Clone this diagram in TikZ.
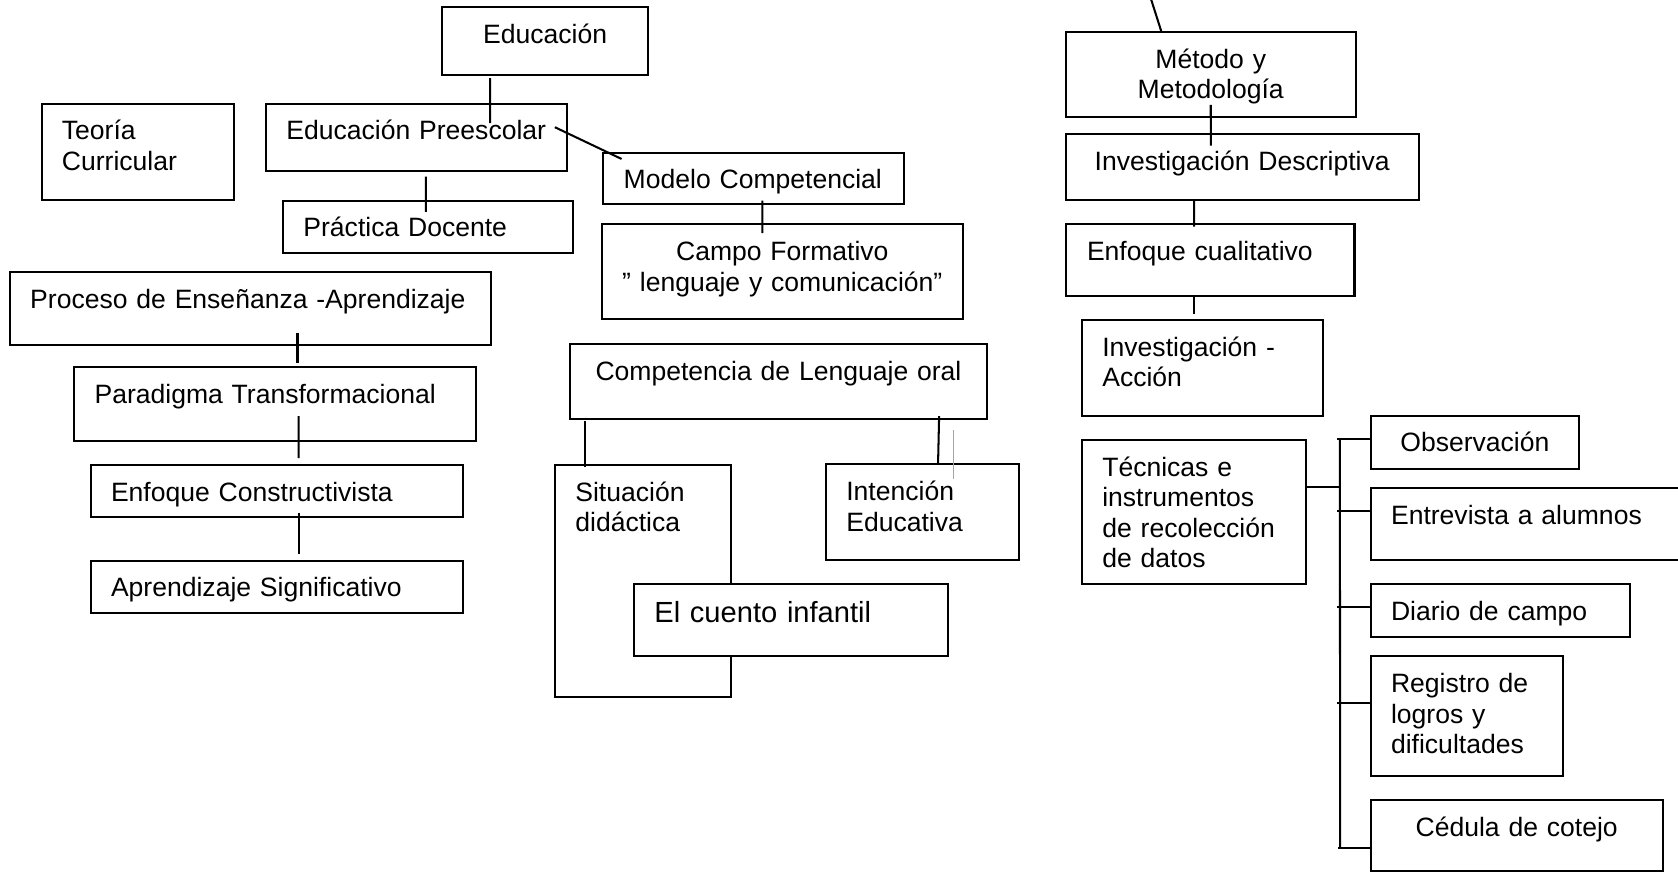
\documentclass[tikz,border=0pt]{standalone}
\usepackage{fontspec}
\setmainfont{Liberation Sans}
\usetikzlibrary{positioning,fit,calc}

\begin{document}
\begin{tikzpicture}[x=0.5pt,y=-0.5pt,
    every node/.style={inner sep=0pt},
    box/.style={draw, line width=0.95pt},
    lbl/.style={text width=8cm, align=left, font=\fontsize{12.4}{14.3}\selectfont, execute at begin node=\strut},
    clbl/.style={lbl, align=center},
    link/.style={line width=0.95pt}]
    \clip (0,0) rectangle (1568,815);

    % left column
    \node[box, fit={(413,6.9) (605.7,70.4)}] (edu) {};
    \node[box, fit={(38.8,96.9) (219,186.9)}] (teo) {};
    \node[box, fit={(248.6,96.9) (530,160.2)}] (pre) {};
    \node[box, fit={(264.5,187.5) (535.7,236.7)}] (pra) {};
    \node[box, fit={(9.2,254.2) (458.8,322.1)}] (pro) {};
    \node[box, fit={(69.3,343.2) (445.1,411.8)}] (par) {};
    \node[box, fit={(84.7,434.5) (432.6,483.4)}] (enc) {};
    \node[box, fit={(84.7,523.9) (432.6,572.5)}] (apr) {};

    \node[clbl, below=7.2pt of edu.north] (edu-t) {Educación};
    \node[lbl, below right=7.2pt and 9.8pt of teo.north west] (teo-t) {Teoría\\Curricular};
    \node[lbl, below right=7.2pt and 9.8pt of pre.north west] (pre-t) {Educación Preescolar};
    \node[lbl, below right=7.2pt and 9.8pt of pra.north west] (pra-t) {Práctica Docente};
    \node[lbl, below right=7.2pt and 9.8pt of pro.north west] (pro-t) {Proceso de Enseñanza -Aprendizaje};
    \node[lbl, below right=7.2pt and 9.8pt of par.north west] (par-t) {Paradigma Transformacional};
    \node[lbl, below right=7.2pt and 9.8pt of enc.north west] (enc-t) {Enfoque Constructivista};
    \node[lbl, below right=7.2pt and 9.8pt of apr.north west] (apr-t) {Aprendizaje Significativo};

    % middle column
    \node[box, fit={(563.8,142.7) (845,191)}] (mod) {};
    \node[box, fit={(562.5,209.5) (899.5,298.4)}] (cam) {};
    \node[box, fit={(532.6,321.7) (922.3,391.5)}] (com) {};
    \node[box, fit={(518.6,434.5) (683.4,651.6)}] (sit) {};
    \node[box, fit={(771.8,433.9) (951.9,523.3)}] (int) {};
    \node[box, fill=white, fit={(592.4,545.7) (885.5,613)}] (cue) {};

    \node[lbl, below right=7.2pt and 9.8pt of mod.north west] (mod-t) {Modelo Competencial};
    \node[clbl, below=7.2pt of cam.north] (cam-t) {Campo Formativo\\” lenguaje y comunicación”};
    \node[clbl, below=7.2pt of com.north] (com-t) {Competencia de Lenguaje oral};
    \node[lbl, below right=7.2pt and 9.8pt of sit.north west] (sit-t) {Situación\\didáctica};
    \node[lbl, below right=7.2pt and 9.8pt of int.north west] (int-t) {Intención\\Educativa};
    \node[lbl, font=\fontsize{13.6}{15.6}\selectfont, below right=7.5pt and 9.8pt of cue.north west] (cue-t) {El cuento infantil};

    % right column
    \node[box, fit={(995.7,29.9) (1267,109)}] (met) {};
    \node[box, fit={(995.7,125.5) (1325.8,186.9)}] (ind) {};
    \node[box, fit={(995.7,209.3) (1265.7,276.6)}] (enq) {};
    \node[box, fit={(1011,299) (1236,388.7)}] (iac) {};
    \node[box, fit={(1011,411) (1220.8,545.7)}] (tec) {};
    \node[box, fit={(1280.8,388.4) (1475.6,438.2)}] (obs) {};
    \node[box, fit={(1280.8,456.3) (1600,523.6)}] (ent) {};
    \node[box, fit={(1280.8,545.7) (1523,595.3)}] (dia) {};
    \node[box, fit={(1280.8,613.3) (1460.3,725.4)}] (reg) {};
    \node[box, fit={(1281,747.5) (1553.6,814)}] (ced) {};

    \node[clbl, below=7.2pt of met.north] (met-t) {Método y\\Metodología};
    \node[clbl, below=7.2pt of ind.north] (ind-t) {Investigación Descriptiva};
    \node[lbl, below right=7.2pt and 10.3pt of enq.north west] (enq-t) {Enfoque cualitativo};
    \node[lbl, below right=7.2pt and 9.8pt of iac.north west] (iac-t) {Investigación -\\Acción};
    \node[lbl, below right=7.2pt and 9.8pt of tec.north west] (tec-t) {Técnicas e\\instrumentos\\de recolección\\de datos};
    \node[clbl, below=7.2pt of obs.north] (obs-t) {Observación};
    \node[lbl, below right=7.2pt and 9.8pt of ent.north west] (ent-t) {Entrevista a alumnos};
    \node[lbl, below right=7.2pt and 9.8pt of dia.north west] (dia-t) {Diario de campo};
    \node[lbl, below right=7.2pt and 9.8pt of reg.north west] (reg-t) {Registro de\\logros y\\dificultades};
    \node[clbl, below=7.2pt of ced.north] (ced-t) {Cédula de cotejo};

    \coordinate (top) at (1072,-12);

    % connectors
    \draw[link] ($(edu.south)+(-51.4,1.6)$) -- ($(pre.north)+(68.6,19.1)$);
    \draw[link] ($(pre.north east)+(-12.5,22.9)$) -- ($(mod.north west)+(18,6.8)$);
    \draw[link] ($(pre.south)+(8.6,3.8)$) -- ($(pra.north)+(-2.1,11.5)$);
    \draw[link] ($(mod.south)+(7.9,-4.6)$) -- ($(cam.north)+(-18.7,9.2)$);
    \draw[link] ($(pro.south)+(44,-12.1)$) -- ($(par.north)+(20.8,-3.2)$);
    \draw[link] ($(par.south)+(21.8,-23.8)$) -- ($(enc.north)+(20.3,-5.5)$);
    \draw[link] ($(enc.south)+(20.3,-5.4)$) -- ($(apr.north)+(20.3,-5.3)$);
    \draw[link] ($(com.south west)+(15,1)$) -- ($(sit.north west)+(29,2.5)$);
    \draw[link] ($(com.south east)+(-45.7,-3.7)$) -- ($(int.north)+(14.7,0.6)$);
    \draw[gray!70, line width=0.5pt] ($(int.north west)+(119.9,-30.9)$) -- ($(int.north west)+(119.9,14.6)$);

    \draw[link] (top) -- ($(met.north west)+(90.3,0)$);
    \draw[link] ($(met.south)+(0,-12)$) -- ($(ind.north)+(-29.3,11.5)$);
    \draw[link] ($(ind.south)+(-44.9,0)$) -- ($(enq.north)+(-14.8,3.4)$);
    \draw[link] ($(enq.south)+(-14.8,0)$) -- ($(iac.north)+(-7.6,-4.7)$);

    \draw[link] ($(tec.north east)+(0,45.3)$) -- ++(30.5,0);
    \draw[link] ($(obs.north west)+(-27.8,22.7)$) -- ($(ced.north west)+(-27.8,45.8)$);
    \draw[link] ($(obs.north west)+(0,22.7)$) -- ++(-30.2,0);
    \draw[link] ($(ent.north west)+(0,22.4)$) -- ++(-30.2,0);
    \draw[link] ($(dia.north west)+(0,22.7)$) -- ++(-30.2,0);
    \draw[link] ($(reg.north west)+(0,44.5)$) -- ++(-30.2,0);
    \draw[link] ($(ced.north west)+(0,45.8)$) -- ++(-30.2,0);
\end{tikzpicture}
\end{document}
